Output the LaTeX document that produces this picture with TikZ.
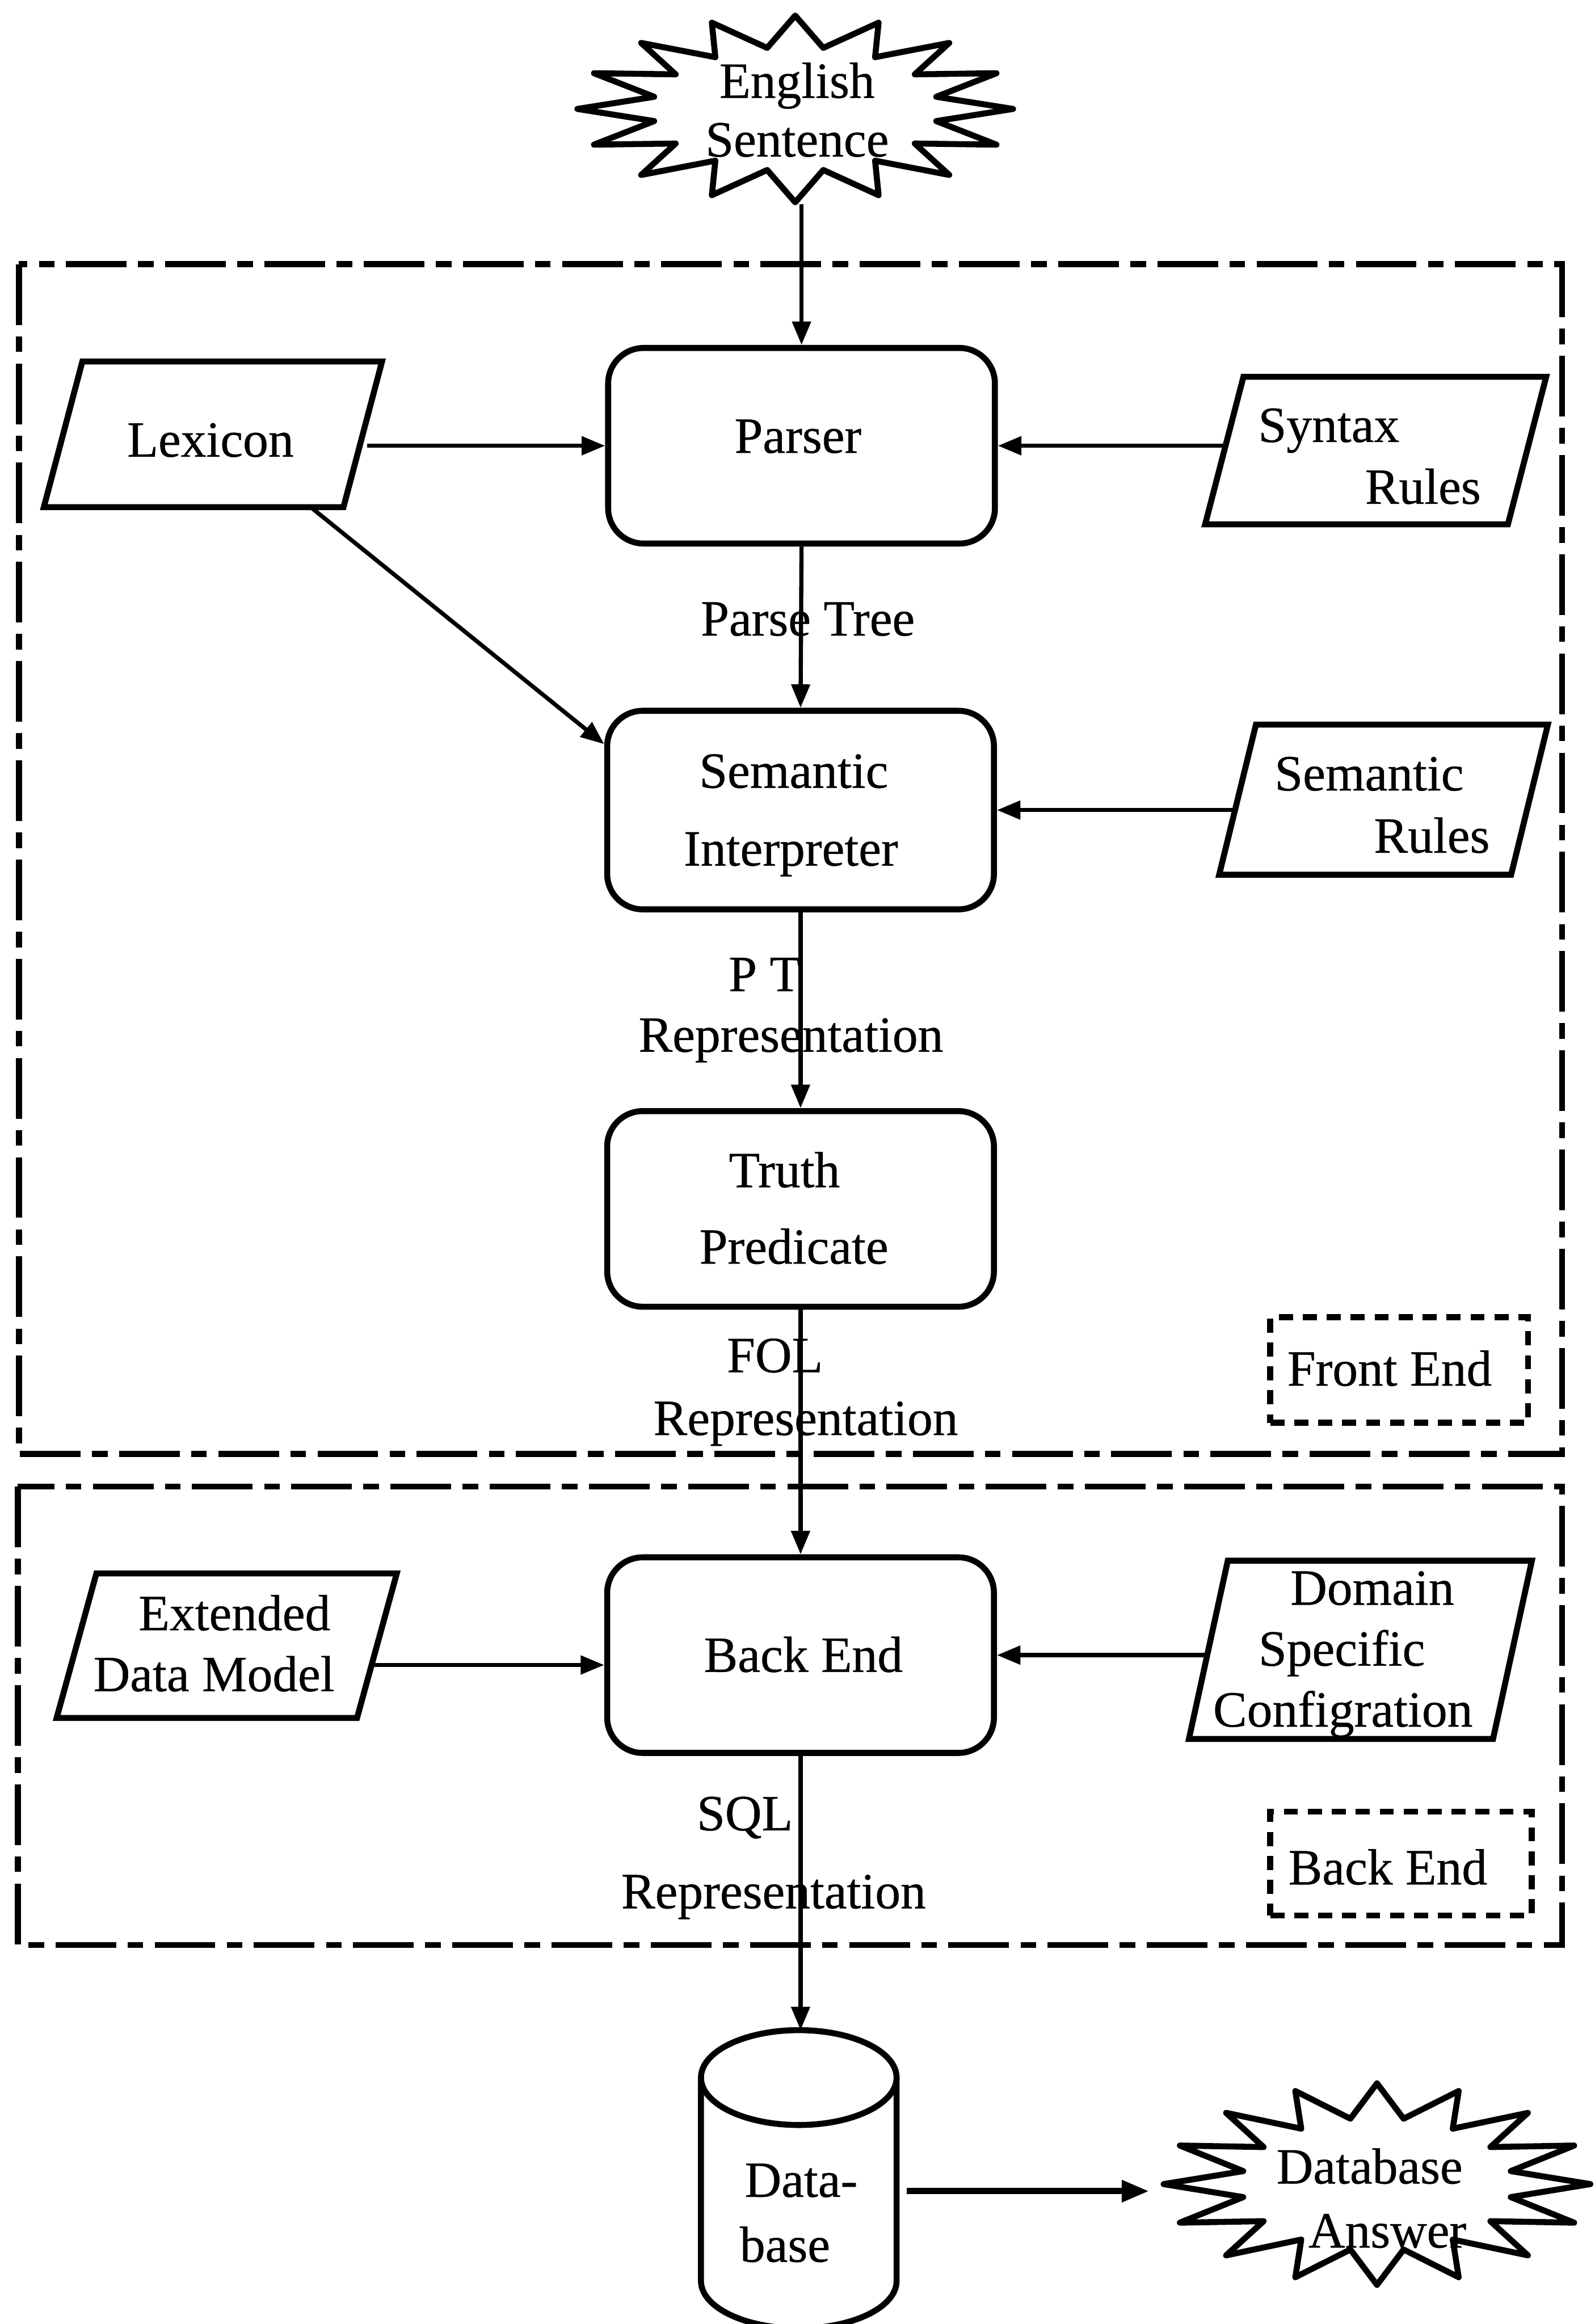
\documentclass[tikz,border=0pt]{standalone}
\usepackage{fontspec}
\setmainfont{Liberation Serif}[FakeBold=0.5]
\newfontfamily\scanfont{Liberation Serif}[FakeBold=0.5]
\usetikzlibrary{arrows.meta,calc}
\tikzset{
  txt/.style={inner sep=0pt, anchor=base, font=\scanfont\fontsize{19.5pt}{23pt}\selectfont},
  proc/.style={draw, line width=2.3pt, rounded corners=0.48cm, minimum width=5.22cm, minimum height=2.64cm, inner sep=0pt},
  hold/.style={inner sep=0pt, outer sep=0pt, minimum width=#1},
  shapeline/.style={line width=2.3pt, line join=miter},
  burstline/.style={line width=2.3pt, line join=round},
  frame/.style={line width=2.3pt, dash pattern=on 23.3pt off 4.4pt on 6pt off 4.4pt},
  tag/.style={draw, line width=2.3pt, dash pattern=on 5.4pt off 3.8pt, inner sep=0pt},
  arr/.style={line width=1.6pt, -{Triangle[length=9pt,width=7pt]}},
  bigarr/.style={line width=2.4pt, -{Triangle[length=10.5pt,width=8pt]}},
}
\newcommand\drawpara[2]{\draw[shapeline] ($(#1.north west)+(#2,0)$) -- ($(#1.north east)+(#2,0)$) -- ($(#1.south east)-(#2,0)$) -- ($(#1.south west)-(#2,0)$) -- cycle;}
\newcommand\drawburst[5]{\draw[burstline] ($(#1.center)+(0,-#3)$)
  \foreach \k in {0,...,14}{
   -- ($(#1.center)+({#4*cos(101.25+22.5*\k)},{-#5*sin(101.25+22.5*\k)})$)
   -- ($(#1.center)+({#2*cos(112.5+22.5*\k)},{-#3*sin(112.5+22.5*\k)})$)}
   -- ($(#1.center)+({#4*cos(78.75)},{-#5*sin(78.75)})$) -- cycle;}
\begin{document}
\begin{tikzpicture}[x=0.02cm,y=-0.02cm]
\useasboundingbox (0,0) rectangle (1076,1568);
% dash-dot frames
\draw[frame] (12.8,178.3) rectangle (1053.8,981);
\draw[frame] (12,1003) rectangle (1053.8,1312.3);

% English sentence
\node[hold=5.94cm, minimum height=2.572cm] (eng) at (536.5,73.5) {};
\drawburst{eng}{147}{63}{97}{42}
\node[txt] (engA) at (537.8,66) {English};
\node[txt] (engB) at (537.8,105.6) {Sentence};

% process boxes
\node[proc] (parser) at (540.75,300.75) {};
\node[proc, minimum height=2.68cm] (sem) at (540.1,546.55) {};
\node[proc] (truth) at (540.1,815.65) {};
\node[proc] (back) at (540.1,1116.7) {};
\node[txt] (parserT) at (538.4,305.5) {Parser};
\node[txt] (semA) at (535.5,531.5) {Semantic};
\node[txt] (semB) at (533.6,584) {Interpreter};
\node[txt] (truthA) at (529.2,801) {Truth};
\node[txt] (truthB) at (535.6,852.6) {Predicate};
\node[txt] (backT) at (542,1128) {Back End};

% data parallelograms
\node[hold=4.044cm, minimum height=1.966cm] (lex) at (143.65,293.05) {};
\drawpara{lex}{13}
\node[txt] (lexT) at (142,308.1) {Lexicon};
\node[hold=4.086cm, minimum height=1.99cm] (syn) at (928.1,304) {};
\drawpara{syn}{12.9}
\node[txt] (synA) at (896.5,298.2) {Syntax};
\node[txt] (synB) at (960,339.9) {Rules};
\node[hold=3.94cm, minimum height=2.026cm] (semr) at (933.4,539.55) {};
\drawpara{semr}{12.4}
\node[txt] (semrA) at (923.7,533.3) {Semantic};
\node[txt] (semrB) at (966,575.3) {Rules};
\node[hold=4.054cm, minimum height=1.95cm] (ext) at (152.95,1110.35) {};
\drawpara{ext}{13.4}
\node[txt] (extA) at (158.2,1099.9) {Extended};
\node[txt] (extB) at (144.4,1141) {Data Model};
\node[hold=4.104cm, minimum height=2.406cm] (dom) at (917.8,1113.15) {};
\drawpara{dom}{13.1}
\node[txt] (domA) at (925.8,1082.7) {Domain};
\node[txt] (domB) at (905.2,1123.8) {Specific};
\node[txt] (domC) at (906,1164.9) {Configration};

% tags
\node[tag, minimum width=3.48cm, minimum height=1.428cm] (fetag) at (944,924.3) {};
\node[txt] (fetext) at (937.5,934.9) {Front End};
\node[tag, minimum width=3.528cm, minimum height=1.4cm] (betag) at (945.2,1257.3) {};
\node[txt] (betext) at (936.3,1271.4) {Back End};

% edge labels
\node[txt] (lblPT) at (545,428.8) {Parse Tree};
\node[txt] (lblPTa) at (515.9,668.7) {P T};
\node[txt] (lblPTb) at (533.6,709.6) {Representation};
\node[txt] (lblFa) at (522.8,925.8) {FOL};
\node[txt] (lblFb) at (543.6,968.2) {Representation};
\node[txt] (lblSa) at (502.5,1234.9) {SQL};
\node[txt] (lblSb) at (521.9,1287.5) {Representation};

% database
\node[hold=2.64cm, minimum height=4.026cm] (db) at (538.9,1470.35) {};
\draw[shapeline] ($(db.north)+(0,32)$) ellipse [x radius=1.32cm, y radius=0.64cm];
\draw[shapeline] ($(db.north west)+(0,32)$) -- ($(db.south west)+(0,-32)$) arc[start angle=180,end angle=360,x radius=1.32cm,y radius=0.64cm] -- ($(db.north east)+(0,32)$);
\node[txt] (dbA) at (540.5,1482.2) {Data-};
\node[txt] (dbB) at (529.6,1526) {base};

% database answer
\node[hold=5.832cm, minimum height=2.784cm] (ans) at (929,1473.6) {};
\drawburst{ans}{144}{68}{92}{45}
\node[txt] (ansA) at (924,1473.2) {Database};
\node[txt] (ansB) at (936,1516.4) {Answer};

% connectors
\draw[arr] (eng.south -| parser.north) -- (parser.north);
\draw[arr] ($(lex.east |- parser.west)+(3,0)$) -- (parser.west);
\draw[arr] (syn.west |- parser.east) -- (parser.east);
\draw[arr] (parser.south) -- (sem.north);
\draw[arr] ($(lex.south)+(66,0)$) -- ($(sem.west)+(0,-44.5)$);
\draw[arr] (semr.west |- sem.east) -- (sem.east);
\draw[arr] (sem.south) -- (truth.north);
\draw[arr] (truth.south) -- (back.north);
\draw[arr] ($(ext.east)+(-5,13)$) coordinate (extout) -- (extout -| back.west);
\draw[arr] (dom.west |- back.east) -- (back.east);
\draw[arr] (back.south) -- (back.south |- db.north);
\draw[bigarr] ($(db.east)+(7,8)$) coordinate (dbout) -- ($(dbout -| ans.west)+(-8,0)$);
\end{tikzpicture}
\end{document}
